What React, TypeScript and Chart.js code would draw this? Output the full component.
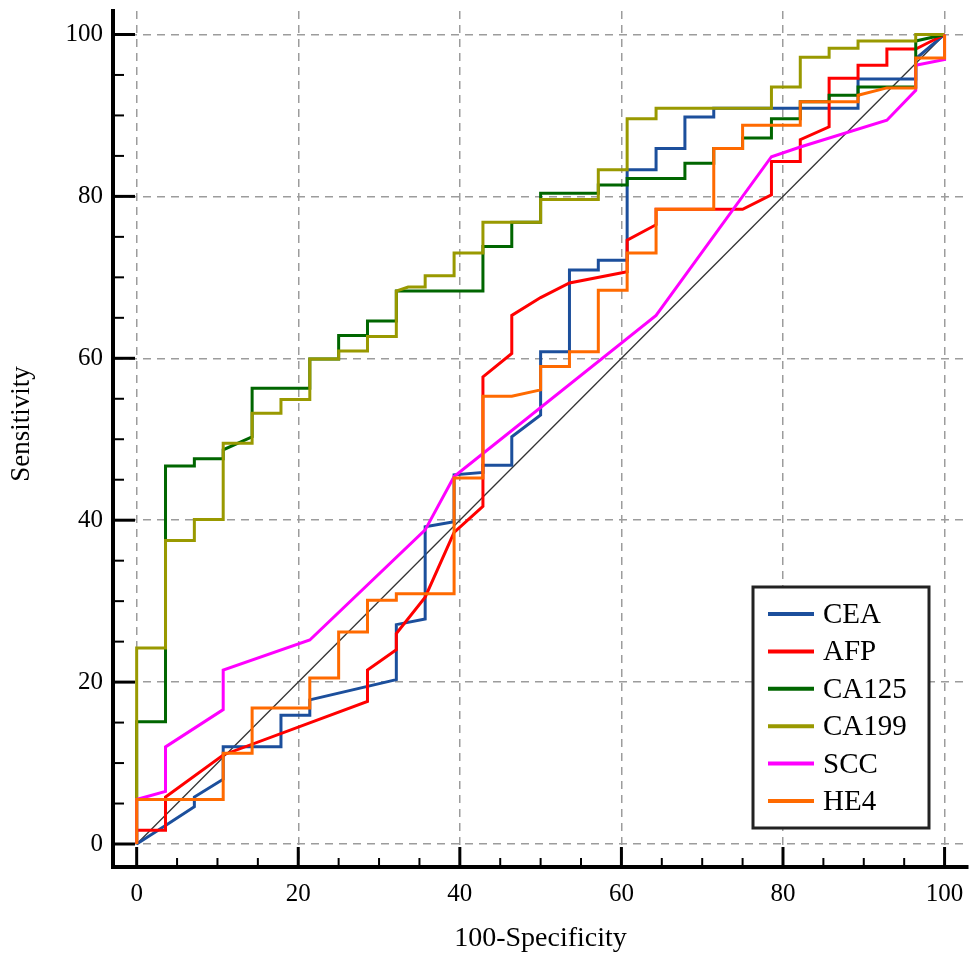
import React, { useEffect, useRef } from 'react';
import { Chart, registerables } from 'chart.js';

Chart.register(...registerables);

// ---- Data (x = 100-Specificity, y = Sensitivity) ----
const seriesNames = ['CEA', 'AFP', 'CA125', 'CA199', 'SCC', 'HE4'];
const seriesColors = ['#1c4f9c', '#ff0000', '#006600', '#999900', '#ff00ff', '#ff6a00'];

const cea: [number, number][] = [
  [0, 0], [3.57, 2.3], [7.14, 4.6], [7.14, 5.8], [10.71, 8.0], [10.71, 12.0], [17.86, 12.0], [17.86, 15.9],
  [21.43, 15.9], [21.43, 17.8], [32.14, 20.3], [32.14, 27.1], [35.71, 27.8], [35.71, 39.2], [39.29, 39.8],
  [39.29, 45.6], [42.86, 45.9], [42.86, 46.8], [46.43, 46.8], [46.43, 50.3], [50, 53.0], [50, 60.8],
  [53.57, 60.8], [53.57, 70.9], [57.14, 70.9], [57.14, 72.1], [60.71, 72.1], [60.71, 83.3], [64.29, 83.3],
  [64.29, 85.9], [67.86, 85.9], [67.86, 89.8], [71.43, 89.8], [71.43, 90.9], [89.29, 90.9], [89.29, 94.5],
  [96.43, 94.5], [96.43, 97.0], [100, 100],
];
const afp: [number, number][] = [
  [0, 0], [0, 1.7], [3.57, 1.7], [3.57, 5.8], [10.71, 11.0], [28.57, 17.6], [28.57, 21.5], [32.14, 24.0],
  [32.14, 26.0], [35.71, 30.5], [39.29, 38.5], [42.86, 41.7], [42.86, 57.7], [46.43, 60.6], [46.43, 65.3],
  [50, 67.5], [53.57, 69.3], [60.71, 70.7], [60.71, 74.6], [64.29, 76.5], [64.29, 78.4], [75, 78.4],
  [78.57, 80.2], [78.57, 84.3], [82.14, 84.3], [82.14, 87.0], [85.71, 88.6], [85.71, 94.6], [89.29, 94.6],
  [89.29, 96.2], [92.86, 96.2], [92.86, 98.2], [96.43, 98.2], [100, 100],
];
const ca125: [number, number][] = [
  [0, 0], [0, 15.1], [3.57, 15.1], [3.57, 46.7], [7.14, 46.7], [7.14, 47.6], [10.71, 47.6], [10.71, 48.7],
  [14.29, 50.3], [14.29, 56.3], [21.43, 56.3], [21.43, 59.9], [25, 59.9], [25, 62.8], [28.57, 62.8],
  [28.57, 64.6], [32.14, 64.6], [32.14, 68.3], [42.86, 68.3], [42.86, 73.8], [46.43, 73.8], [46.43, 76.8],
  [50, 76.8], [50, 80.4], [57.14, 80.4], [57.14, 81.4], [60.71, 81.4], [60.71, 82.2], [67.86, 82.2],
  [67.86, 84.1], [71.43, 84.1], [71.43, 85.9], [75, 85.9], [75, 87.2], [78.57, 87.2], [78.57, 89.6],
  [82.14, 89.6], [82.14, 91.7], [85.71, 91.7], [85.71, 92.5], [89.29, 92.5], [89.29, 93.5], [96.43, 93.5],
  [96.43, 99.2], [100, 100],
];
const ca199: [number, number][] = [
  [0, 0], [0, 24.2], [3.57, 24.2], [3.57, 37.5], [7.14, 37.5], [7.14, 40.1], [10.71, 40.1], [10.71, 49.5],
  [14.29, 49.5], [14.29, 53.2], [17.86, 53.2], [17.86, 54.9], [21.43, 54.9], [21.43, 59.9], [25, 59.9],
  [25, 60.9], [28.57, 60.9], [28.57, 62.7], [32.14, 62.7], [32.14, 68.3], [33.6, 68.8], [35.71, 68.8],
  [35.71, 70.2], [39.29, 70.2], [39.29, 73.0], [42.86, 73.0], [42.86, 76.8], [50, 76.8], [50, 79.6],
  [57.14, 79.6], [57.14, 83.3], [60.71, 83.3], [60.71, 89.6], [64.29, 89.6], [64.29, 90.9], [78.57, 90.9],
  [78.57, 93.5], [82.14, 93.5], [82.14, 97.2], [85.71, 97.2], [85.71, 98.3], [89.29, 98.3], [89.29, 99.2],
  [96.43, 99.2], [96.43, 100], [100, 100],
];
const scc: [number, number][] = [
  [0, 0], [0, 5.5], [3.57, 6.5], [3.57, 12.0], [10.71, 16.6], [10.71, 21.5], [21.43, 25.2], [35.71, 38.8],
  [39.29, 45.4], [64.29, 65.3], [78.57, 84.9], [82.14, 86.1], [92.86, 89.4], [96.43, 93.1], [96.43, 96.2],
  [100, 96.9], [100, 100],
];
const he4: [number, number][] = [
  [0, 0], [0, 5.5], [10.71, 5.5], [10.71, 11.2], [14.29, 11.2], [14.29, 16.8], [21.43, 16.8], [21.43, 20.5],
  [25, 20.5], [25, 26.2], [28.57, 26.2], [28.57, 30.1], [32.14, 30.1], [32.14, 30.9], [39.29, 30.9],
  [39.29, 45.2], [42.86, 45.2], [42.86, 55.3], [46.43, 55.3], [50, 56.1], [50, 59.0], [53.57, 59.0],
  [53.57, 60.8], [57.14, 60.8], [57.14, 68.4], [60.71, 68.4], [60.71, 73.0], [64.29, 73.0], [64.29, 78.4],
  [71.43, 78.4], [71.43, 85.9], [75, 85.9], [75, 88.8], [82.14, 88.8], [82.14, 91.7], [89.29, 91.7],
  [89.29, 92.5], [92.86, 93.4], [96.43, 93.4], [96.43, 97.1], [100, 97.1], [100, 100],
];
const referenceLine: [number, number][] = [[0, 0], [100, 100]];

const majorTicks = [0, 20, 40, 60, 80, 100];
const minorTicks = [5, 10, 15, 25, 30, 35, 45, 50, 55, 65, 70, 75, 85, 90, 95];
const xTitle = '100-Specificity';
const yTitle = 'Sensitivity';

const allSeries = [cea, afp, ca125, ca199, scc, he4];

const SERIF = '"Liberation Serif", "Times New Roman", serif';

const decorPlugin = {
  id: 'decor',
  afterDraw(chart: any) {
    const ctx = chart.ctx as CanvasRenderingContext2D;
    const xs = chart.scales.x;
    const ys = chart.scales.y;
    const { left, bottom } = chart.chartArea;
    ctx.save();
    ctx.strokeStyle = '#000';
    ctx.setLineDash([]);
    const drawTick = (v: number, major: boolean) => {
      ctx.lineWidth = major ? 3 : 2;
      const px = xs.getPixelForValue(v);
      ctx.beginPath();
      ctx.moveTo(px, bottom);
      ctx.lineTo(px, bottom - (major ? 20 : 9));
      ctx.stroke();
      const py = ys.getPixelForValue(v);
      ctx.beginPath();
      ctx.moveTo(left, py);
      ctx.lineTo(left + (major ? 22 : 11), py);
      ctx.stroke();
    };
    majorTicks.forEach((v) => drawTick(v, true));
    minorTicks.forEach((v) => drawTick(v, false));

    // axis titles
    ctx.fillStyle = '#000';
    ctx.font = `28px ${SERIF}`;
    ctx.textAlign = 'center';
    ctx.textBaseline = 'alphabetic';
    ctx.fillText(xTitle, (chart.chartArea.left + chart.chartArea.right) / 2, 946);
    ctx.save();
    ctx.translate(29, 424);
    ctx.rotate(-Math.PI / 2);
    ctx.font = `27px ${SERIF}`;
    ctx.fillText(yTitle, 0, 0);
    ctx.restore();

    // legend box
    const lx = 753, ly = 587, lw = 176, lh = 241;
    ctx.fillStyle = '#fff';
    ctx.fillRect(lx, ly, lw, lh);
    ctx.lineWidth = 3;
    ctx.strokeStyle = '#222';
    ctx.strokeRect(lx, ly, lw, lh);
    ctx.font = `29px ${SERIF}`;
    ctx.textAlign = 'left';
    ctx.textBaseline = 'alphabetic';
    seriesNames.forEach((name, i) => {
      const base = 623 + i * 37.4;
      ctx.strokeStyle = seriesColors[i];
      ctx.lineWidth = 4;
      ctx.beginPath();
      ctx.moveTo(768, base - 9);
      ctx.lineTo(814, base - 9);
      ctx.stroke();
      ctx.fillStyle = '#000';
      ctx.fillText(name, 823, base);
    });
    ctx.restore();
  },
};

const zeroPad = (s: any) => {
  s.paddingLeft = 0;
  s.paddingRight = 0;
  s.paddingTop = 0;
  s.paddingBottom = 0;
};

export default function App() {
  const ref = useRef<HTMLCanvasElement | null>(null);
  useEffect(() => {
    if (!ref.current) return;
    const datasets: any[] = allSeries.map((s, i) => ({
      label: seriesNames[i],
      data: s.map(([x, y]) => ({ x, y })),
      borderColor: seriesColors[i],
      backgroundColor: seriesColors[i],
      borderWidth: 3,
      showLine: true,
      pointRadius: 0,
      tension: 0,
      fill: false,
      borderJoinStyle: 'miter',
      order: seriesNames.length - i,
    }));
    datasets.push({
      label: 'ref',
      data: referenceLine.map(([x, y]) => ({ x, y })),
      borderColor: '#333',
      borderWidth: 1.3,
      showLine: true,
      pointRadius: 0,
      fill: false,
      order: 10,
    });
    const gridCommon = {
      color: '#9c9c9c',
      lineWidth: 1.5,
      drawTicks: false,
      tickLength: 0,
    };
    const chart = new Chart(ref.current, {
      type: 'scatter',
      data: { datasets },
      options: {
        animation: false,
        responsive: false,
        devicePixelRatio: 1,
        layout: { padding: { top: 11, right: 1, left: 0, bottom: 0 } },
        plugins: { legend: { display: false }, tooltip: { enabled: false } },
        scales: {
          x: {
            type: 'linear',
            min: -2.93,
            max: 102.9,
            afterBuildTicks: (s: any) => {
              s.ticks = majorTicks.map((v) => ({ value: v }));
            },
            afterFit: (s: any) => {
              s.height = 89;
              zeroPad(s);
            },
            grid: gridCommon,
            border: { display: true, color: '#000', width: 4, dash: [8, 6] },
            ticks: {
              padding: 12,
              color: '#000',
              font: { family: SERIF, size: 25 },
              maxRotation: 0,
              autoSkip: false,
            },
          },
          y: {
            type: 'linear',
            min: -2.84,
            max: 102.9,
            afterBuildTicks: (s: any) => {
              s.ticks = majorTicks.map((v) => ({ value: v }));
            },
            afterFit: (s: any) => {
              s.width = 113;
              zeroPad(s);
            },
            grid: gridCommon,
            border: { display: true, color: '#000', width: 4, dash: [8, 6] },
            ticks: {
              padding: 10,
              color: '#000',
              font: { family: SERIF, size: 25 },
              autoSkip: false,
            },
          },
        },
      },
      plugins: [decorPlugin],
    } as any);
    return () => chart.destroy();
  }, []);
  return (
    <div style={{ position: 'absolute', left: 0, top: 0, width: 969, height: 956, background: '#fff' }}>
      <canvas ref={ref} width={969} height={956} style={{ display: 'block' }} />
    </div>
  );
}
